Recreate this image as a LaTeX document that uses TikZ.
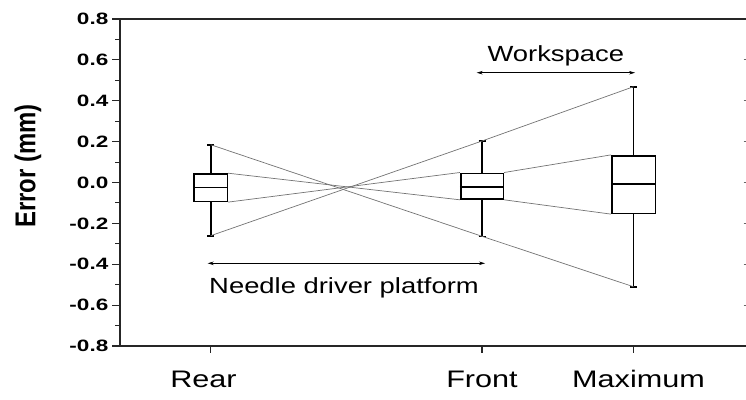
\documentclass[tikz,border=0pt]{standalone}
\usepackage{fontspec}
\setmainfont{Liberation Sans}
\usepackage{graphicx}
\usetikzlibrary{arrows.meta, positioning, calc}

\newcommand{\widetxt}[2]{\scalebox{#1}[1]{#2}}

\tikzset{
  axisline/.style={black!85, line width=1.4bp},
  ticklbl/.style={anchor=east, inner sep=0pt, font=\fontsize{16.5}{18}\selectfont\bfseries},
  catlbl/.style={anchor=base, inner sep=0pt, font=\fontsize{24}{28}\selectfont},
  annot/.style={anchor=base, inner sep=0pt, font=\fontsize{22}{26}\selectfont},
  errbox/.style={draw, rectangle, line width=1.6bp, inner sep=0pt},
  whisk/.style={line width=1.6bp},
  guide/.style={black!55, line width=0.7bp},
  rangearrow/.style={<->, line width=0.6bp, >={Stealth[length=6bp,width=3.5bp]}}
}

\begin{document}
\begin{tikzpicture}[x=1bp, y=-1bp]
\useasboundingbox (0,0) rectangle (746,399);

% Frame
\draw[axisline] (120,19) -- (746,19);
\draw[axisline] (120,19) -- (120,346) -- (746,346);

% Y ticks and labels
\foreach \lbl [count=\i from 0] in {0.8,0.6,0.4,0.2,0.0,-0.2,-0.4,-0.6,-0.8} {
  \draw[axisline, line width=1.1bp] (112,19+\i*40.875) -- (120,19+\i*40.875);
  \node[ticklbl] (tick\i) at (108.5,19+\i*40.875) {\widetxt{1.37}{\lbl}};
}
\foreach \i in {0,...,7} {
  \draw[axisline, line width=1.1bp] (115,39.44+\i*40.875) -- (120,39.44+\i*40.875);
}
\foreach \i in {1,...,7} {
  \draw[black!60, line width=1bp] (743.5,19+\i*40.875) -- (746,19+\i*40.875);
}

\node[rotate=90, inner sep=0pt, font=\fontsize{24}{28}\selectfont\bfseries] (ylbl) at (28,166) {\scalebox{1}[1.2]{Error (mm)}};

% X ticks and labels
\foreach \cx in {210.7, 482, 633.5} {
  \draw[axisline, line width=1.1bp] (\cx,346) -- (\cx,353);
}
\node[catlbl] (rearlbl) at (203.5,387) {\widetxt{1.28}{Rear}};
\node[catlbl] (frontlbl) at (482,387) {\widetxt{1.28}{Front}};
\node[catlbl] (maxlbl) at (638.5,387) {\widetxt{1.28}{Maximum}};

% Boxes
\foreach \nm/\cx/\bw/\tp/\bt/\md/\wt/\wb in {rear/210.7/33.3/174/201.3/187.3/144.7/235.7,
    front/482/42.6/173.3/199/186.7/141/236.3,
    max/633.5/43.6/155.7/213.3/183.7/86.7/286.7} {
  \node[errbox, minimum width={\bw*1bp}, minimum height={(\bt-\tp)*1bp}] (\nm) at (\cx,{(\tp+\bt)/2}) {};
  \coordinate (\nm-med) at (\cx,\md);
  \coordinate (\nm-top) at (\cx,\wt);
  \coordinate (\nm-bot) at (\cx,\wb);
  \draw[whisk] (\nm-med -| \nm.west) -- (\nm-med -| \nm.east);
  \draw[whisk] (\nm-top) -- (\nm.north);
  \draw[whisk] (\nm-bot) -- (\nm.south);
  \draw[whisk] ([xshift=-3.5bp]\nm-top) -- ([xshift=3.5bp]\nm-top);
  \draw[whisk] ([xshift=-3.5bp]\nm-bot) -- ([xshift=3.5bp]\nm-bot);
}

% Guide lines
\draw[guide] (rear-top) -- (front-bot) -- (max-bot);
\draw[guide] (rear-bot) -- (front-top) -- (max-top);
\draw[guide] (rear.north east) -- (front.south west);
\draw[guide] (rear.south east) -- (front.north west);
\draw[guide] (front.south east) -- (max.south west);
\draw[guide] (front.north east) -- (max.north west);

% Ranges
\coordinate (ndl) at (207.7,263.3);
\coordinate (ndr) at (485,263.3);
\draw[rangearrow] (ndl) -- (ndr);
\node[annot] (ndtxt) at (344,293.3) {\widetxt{1.25}{Needle driver platform}};

\coordinate (wsl) at (476.7,72.7);
\coordinate (wsr) at (635,72.7);
\draw[rangearrow] (wsl) -- (wsr);
\node[annot] (wstxt) at (555.8,61.7) {\widetxt{1.25}{Workspace}};
\end{tikzpicture}
\end{document}
